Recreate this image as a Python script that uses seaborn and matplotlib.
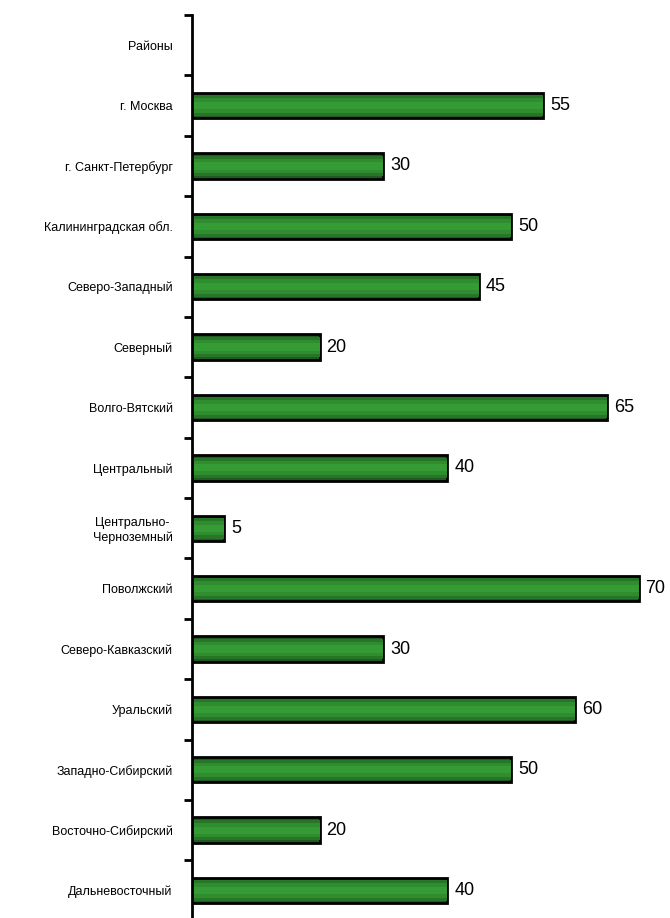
import matplotlib
matplotlib.use("Agg")
import matplotlib.pyplot as plt
import seaborn as sns
import pandas as pd
import numpy as np

regions = ["Районы", "г. Москва", "г. Санкт-Петербург", "Калининградская обл.",
           "Северо-Западный", "Северный", "Волго-Вятский", "Центральный",
           "Центрально-\nЧерноземный", "Поволжский", "Северо-Кавказский",
           "Уральский", "Западно-Сибирский", "Восточно-Сибирский", "Дальневосточный"]
values = [np.nan, 55, 30, 50, 45, 20, 65, 40, 5, 70, 30, 60, 50, 20, 40]

df = pd.DataFrame({"region": regions, "value": values})

sns.set_style("white")
plt.rcParams["font.family"] = ["Liberation Sans", "DejaVu Sans"]
plt.rcParams["text.color"] = "black"
plt.rcParams["ytick.color"] = "black"
plt.rcParams["axes.edgecolor"] = "black"

fig = plt.figure(figsize=(6.7, 9.18), dpi=100)
ax = fig.add_axes([0.2866, -0.003, 0.714, 0.9867])

# layered bars to fake the cylinder shading
layers = [(0.42, "#1f5a1f"), (0.34, "#277527"), (0.24, "#2f8c2f"), (0.12, "#359c35")]
for i, (w, c) in enumerate(layers):
    sns.barplot(data=df, y="region", x="value", orient="h", color=c,
                width=w, ax=ax, saturation=1,
                edgecolor="black" if i == 0 else "none",
                linewidth=2 if i == 0 else 0)

for i, v in enumerate(values):
    if not np.isnan(v):
        ax.text(v + 1.1, i, f"{int(v)}", va="center", ha="left", fontsize=13,
                color="black")

ax.set_xlim(0, 75)
ax.set_ylim(len(regions) - 0.5, -0.5)
ax.set_xlabel("")
ax.set_ylabel("")
ax.set_xticks([])

for s in ["top", "right", "bottom"]:
    ax.spines[s].set_visible(False)
ax.spines["left"].set_linewidth(2)

ax.set_yticks(np.arange(len(regions)))
ax.set_yticklabels(regions, fontsize=9, multialignment="center", color="black")
ax.tick_params(axis="y", which="major", left=True, length=0, pad=14)
ax.set_yticks(np.arange(len(regions) + 1) - 0.5, minor=True)
ax.tick_params(axis="y", which="minor", left=True, length=6, width=2,
               direction="out", color="black")

fig.savefig("out.png", dpi=100)
